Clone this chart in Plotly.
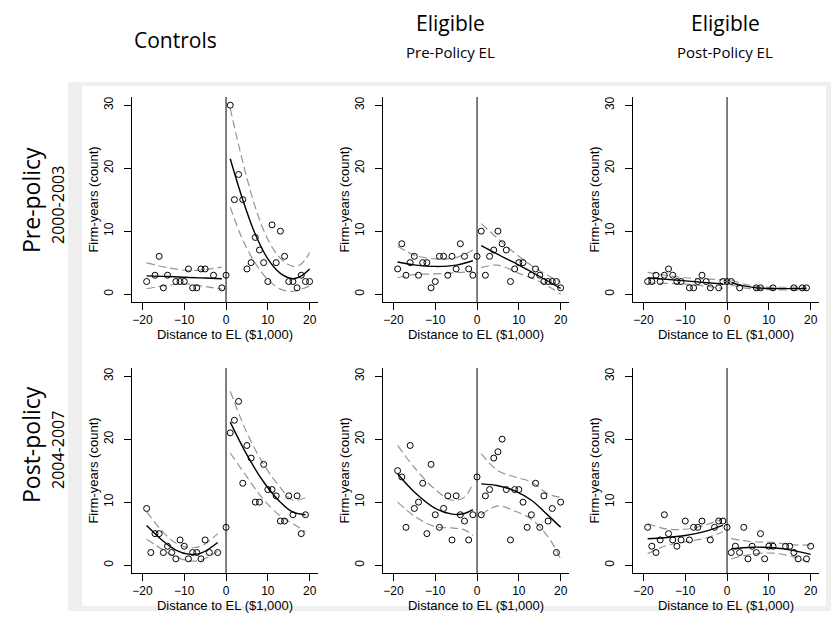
import plotly.graph_objects as go

W, H = 831, 633

# ---------------- data ----------------
# Panel A: Controls, pre-policy (2000-2003)
ctrl_pre_x = [-19, -17, -16, -15, -14, -12, -11, -10, -9, -8, -7, -6, -5, -3, -1, 0,
              1, 2, 3, 4, 5, 6, 7, 8, 9, 10, 11, 12, 13, 14, 15, 16, 17, 18, 19, 20]
ctrl_pre_y = [2, 3, 6, 1, 3, 2, 2, 2, 4, 1, 1, 4, 4, 3, 1, 3,
              30, 15, 19, 15, 4, 5, 9, 7, 5, 2, 11, 5, 10, 6, 2, 2, 1, 3, 2, 2]
ctrl_pre_fitL_x = [-19, -14, -9, -5, -1]
ctrl_pre_fitL = [2.9, 2.8, 2.65, 2.55, 2.45]
ctrl_pre_hiL = [4.95, 4.2, 3.75, 3.9, 4.3]
ctrl_pre_loL = [0.85, 1.4, 1.6, 1.2, 0.8]
ctrl_pre_fitR_x = [1, 4, 7, 10, 13, 16, 18, 20]
ctrl_pre_fitR = [21.5, 15.0, 9.5, 5.6, 3.3, 2.45, 2.9, 4.0]
ctrl_pre_hiR = [29.5, 21.0, 13.8, 8.7, 5.7, 4.4, 4.8, 6.6]
ctrl_pre_loR = [13.8, 8.6, 4.9, 2.3, 0.8, 0.45, 0.8, 1.3]

# Panel B: Eligible (pre-policy EL), pre-policy
eprel_pre_x = [-19, -18, -17, -16, -15, -14, -13, -12, -11, -10, -9, -8, -7, -6, -5, -4, -3, -2, -1, 0,
               1, 2, 3, 4, 5, 6, 7, 8, 9, 10, 11, 13, 14, 15, 16, 17, 18, 19, 20]
eprel_pre_y = [4, 8, 3, 5, 6, 3, 5, 5, 1, 2, 6, 6, 3, 6, 4, 8, 6, 4, 3, 6,
               10, 3, 6, 7, 10, 8, 7, 2, 4, 5, 5, 3, 4, 3, 2, 2, 2, 2, 1]
eprel_pre_fitL_x = [-19, -15, -10, -5, -1]
eprel_pre_fitL = [5.1, 4.65, 4.4, 4.6, 5.3]
eprel_pre_hiL = [7.6, 6.2, 5.6, 5.8, 7.0]
eprel_pre_loL = [2.6, 3.1, 3.2, 3.4, 3.6]
eprel_pre_fitR_x = [1, 5, 10, 15, 20]
eprel_pre_fitR = [7.7, 6.3, 4.6, 2.8, 0.9]
eprel_pre_hiR = [11.2, 8.8, 6.0, 3.7, 1.9]
eprel_pre_loR = [4.2, 4.6, 3.3, 2.0, 0.0]

# Panel C: Eligible (post-policy EL), pre-policy
epoel_pre_x = [-19, -18, -17, -16, -15, -14, -13, -12, -11, -9, -8, -7, -6, -5, -4, -2, -1, 0,
               1, 3, 7, 8, 11, 16, 18, 19]
epoel_pre_y = [2, 2, 3, 2, 3, 4, 3, 2, 2, 1, 1, 2, 3, 2, 1, 1, 2, 2,
               2, 1, 1, 1, 1, 1, 1, 1]
epoel_pre_fitL_x = [-19, -10, -1]
epoel_pre_fitL = [2.6, 2.1, 1.6]
epoel_pre_hiL = [3.45, 2.6, 2.3]
epoel_pre_loL = [1.75, 1.6, 0.9]
epoel_pre_fitR_x = [1, 4, 7, 10, 15, 19]
epoel_pre_fitR = [1.85, 1.3, 1.0, 0.9, 0.88, 0.9]
epoel_pre_hiR = [2.25, 1.6, 1.2, 1.1, 1.1, 1.15]
epoel_pre_loR = [1.45, 1.0, 0.8, 0.7, 0.65, 0.65]

# Panel D: Controls, post-policy (2004-2007)
ctrl_post_x = [-19, -18, -17, -16, -15, -14, -13, -12, -11, -10, -9, -8, -7, -6, -5, -4, -2, 0,
               1, 2, 3, 4, 5, 6, 7, 8, 9, 10, 11, 12, 13, 14, 15, 16, 17, 18, 19]
ctrl_post_y = [9, 2, 5, 5, 2, 3, 2, 1, 4, 3, 1, 2, 2, 1, 4, 2, 2, 6,
               21, 23, 26, 13, 19, 17, 10, 10, 16, 12, 12, 11, 7, 7, 11, 8, 11, 5, 8]
ctrl_post_fitL_x = [-19, -15, -12, -9, -6, -2]
ctrl_post_fitL = [6.3, 3.8, 2.4, 1.75, 1.9, 3.6]
ctrl_post_hiL = [8.5, 5.2, 3.5, 2.8, 3.0, 5.0]
ctrl_post_loL = [4.1, 2.4, 1.3, 0.7, 0.8, 2.2]
ctrl_post_fitR_x = [1, 5, 9, 13, 16, 19]
ctrl_post_fitR = [22.7, 17.5, 13.2, 10.0, 8.4, 8.0]
ctrl_post_hiR = [27.6, 21.0, 16.0, 12.3, 10.3, 10.7]
ctrl_post_loR = [17.8, 14.0, 10.4, 7.8, 6.6, 5.3]

# Panel E: Eligible (pre-policy EL), post-policy
eprel_post_x = [-19, -18, -17, -16, -15, -14, -13, -12, -11, -10, -9, -8, -7, -6, -5, -4, -3, -2, -1, 0,
                1, 2, 3, 4, 5, 6, 7, 8, 9, 10, 11, 12, 13, 14, 15, 16, 17, 18, 19, 20]
eprel_post_y = [15, 14, 6, 19, 9, 10, 13, 5, 16, 8, 6, 9, 11, 4, 11, 8, 7, 4, 8, 14,
                8, 11, 12, 17, 18, 20, 12, 4, 12, 12, 10, 6, 8, 13, 6, 11, 7, 9, 2, 10]
eprel_post_fitL_x = [-19, -15, -10, -6, -3, -1]
eprel_post_fitL = [14.5, 11.6, 9.0, 8.1, 8.2, 8.8]
eprel_post_hiL = [19.0, 15.5, 12.0, 10.3, 10.8, 13.0]
eprel_post_loL = [10.0, 7.8, 6.1, 5.9, 5.6, 4.7]
eprel_post_fitR_x = [1, 5, 9, 13, 17, 20]
eprel_post_fitR = [12.9, 12.6, 11.8, 10.3, 7.9, 6.0]
eprel_post_hiR = [17.7, 15.0, 14.0, 13.2, 11.3, 10.8]
eprel_post_loR = [8.0, 9.4, 8.6, 7.3, 4.5, 1.0]

# Panel F: Eligible (post-policy EL), post-policy
epoel_post_x = [-19, -18, -17, -16, -15, -14, -13, -12, -11, -10, -9, -8, -7, -6, -4, -3, -2, -1, 0,
                1, 2, 3, 4, 5, 6, 7, 8, 9, 10, 11, 14, 15, 16, 17, 19, 20]
epoel_post_y = [6, 3, 2, 4, 8, 5, 4, 3, 4, 7, 4, 6, 6, 7, 4, 6, 7, 7, 6,
                2, 3, 2, 6, 1, 3, 2, 5, 1, 3, 3, 3, 3, 2, 1, 1, 3]
epoel_post_fitL_x = [-19, -15, -10, -5, -1]
epoel_post_fitL = [4.2, 4.35, 4.7, 5.4, 6.3]
epoel_post_hiL = [6.6, 5.8, 5.7, 6.4, 7.4]
epoel_post_loL = [1.8, 3.0, 3.7, 4.3, 5.3]
epoel_post_fitR_x = [1, 6, 11, 16, 20]
epoel_post_fitR = [2.6, 2.85, 2.75, 2.3, 1.7]
epoel_post_hiR = [4.2, 3.7, 3.6, 3.2, 3.2]
epoel_post_loR = [1.0, 1.75, 1.9, 1.3, 0.3]

x_ticks = [-20, -10, 0, 10, 20]
y_ticks = [0, 10, 20, 30]
x_title = "Distance to EL ($1,000)"
y_title = "Firm-years (count)"
col_titles = ["Controls", "Eligible", "Eligible"]
col_subtitles = ["", "Pre-Policy EL", "Post-Policy EL"]
row_titles = ["Pre-policy", "Post-policy"]
row_subtitles = ["2000-2003", "2004-2007"]

panels = [
    (ctrl_pre_x, ctrl_pre_y, ctrl_pre_fitL_x, ctrl_pre_fitL, ctrl_pre_hiL, ctrl_pre_loL,
     ctrl_pre_fitR_x, ctrl_pre_fitR, ctrl_pre_hiR, ctrl_pre_loR),
    (eprel_pre_x, eprel_pre_y, eprel_pre_fitL_x, eprel_pre_fitL, eprel_pre_hiL, eprel_pre_loL,
     eprel_pre_fitR_x, eprel_pre_fitR, eprel_pre_hiR, eprel_pre_loR),
    (epoel_pre_x, epoel_pre_y, epoel_pre_fitL_x, epoel_pre_fitL, epoel_pre_hiL, epoel_pre_loL,
     epoel_pre_fitR_x, epoel_pre_fitR, epoel_pre_hiR, epoel_pre_loR),
    (ctrl_post_x, ctrl_post_y, ctrl_post_fitL_x, ctrl_post_fitL, ctrl_post_hiL, ctrl_post_loL,
     ctrl_post_fitR_x, ctrl_post_fitR, ctrl_post_hiR, ctrl_post_loR),
    (eprel_post_x, eprel_post_y, eprel_post_fitL_x, eprel_post_fitL, eprel_post_hiL, eprel_post_loL,
     eprel_post_fitR_x, eprel_post_fitR, eprel_post_hiR, eprel_post_loR),
    (epoel_post_x, epoel_post_y, epoel_post_fitL_x, epoel_post_fitL, epoel_post_hiL, epoel_post_loL,
     epoel_post_fitR_x, epoel_post_fitR, epoel_post_hiR, epoel_post_loR),
]

# ---------------- layout geometry (pixels) ----------------
col_px = [(132, 318), (383, 569), (633, 819)]
row_px = [(97, 302), (368, 573)]
X_RANGE = [-22.5, 22.0]
Y_RANGE = [-1.25, 31.3]

def px(x):
    return x / W

def py(y):
    return 1 - y / H

fig = go.Figure()
layout = dict(
    width=W, height=H, margin=dict(l=0, r=0, t=0, b=0),
    paper_bgcolor="white", plot_bgcolor="rgba(0,0,0,0)",
    showlegend=False, font=dict(family="Liberation Sans, Arial", color="black"),
)

TICKFONT = dict(family="Liberation Sans, Arial", size=12, color="black")
TITLEFONT = dict(family="Liberation Sans, Arial", size=13, color="black")
FIT = dict(color="black", width=1.4, shape="spline")
CI = dict(color="#959595", width=1.2, dash="8px,4px", shape="spline")

shapes = [
    dict(type="rect", xref="paper", yref="paper", x0=px(68), x1=px(831), y0=py(611), y1=py(82),
         fillcolor="#efefef", line=dict(width=0), layer="below"),
    dict(type="rect", xref="paper", yref="paper", x0=px(82), x1=px(826), y0=py(606), y1=py(86),
         fillcolor="white", line=dict(width=0), layer="below"),
]

for i, p in enumerate(panels):
    (sx, sy, lx, lf, lh, ll, rx, rf, rh, rl) = p
    r, c = divmod(i, 3)
    n = i + 1
    xa = "x" if n == 1 else f"x{n}"
    ya = "y" if n == 1 else f"y{n}"
    xk = "xaxis" if n == 1 else f"xaxis{n}"
    yk = "yaxis" if n == 1 else f"yaxis{n}"
    x0, x1 = col_px[c]
    y0, y1 = row_px[r]
    layout[xk] = dict(
        domain=[px(x0), px(x1)], range=X_RANGE, anchor=ya,
        showline=True, linecolor="black", linewidth=1, mirror=False,
        ticks="outside", ticklen=7, tickwidth=1, tickcolor="black",
        tickvals=x_ticks, tickfont=TICKFONT, showgrid=False, zeroline=False,
        title=dict(text=x_title, font=TITLEFONT, standoff=2),
    )
    layout[yk] = dict(
        domain=[py(y1), py(y0)], range=Y_RANGE, anchor=xa,
        showline=True, linecolor="black", linewidth=1, mirror=False,
        ticks="outside", ticklen=7, tickwidth=1, tickcolor="black",
        tickvals=y_ticks, tickfont=TICKFONT, tickangle=-90, ticklabelstandoff=6,
        showgrid=False, zeroline=False,
        title=dict(text=y_title, font=TITLEFONT, standoff=0),
    )
    # vertical line at the threshold
    shapes.append(dict(type="line", xref=xa, yref=f"{ya} domain", x0=0, x1=0, y0=0, y1=1,
                       line=dict(color="black", width=1)))
    for fx, ff, fh, fl in ((lx, lf, lh, ll), (rx, rf, rh, rl)):
        fig.add_trace(go.Scatter(x=fx, y=fh, mode="lines", line=CI, xaxis=xa, yaxis=ya,
                                 hoverinfo="skip"))
        fig.add_trace(go.Scatter(x=fx, y=fl, mode="lines", line=CI, xaxis=xa, yaxis=ya,
                                 hoverinfo="skip"))
        fig.add_trace(go.Scatter(x=fx, y=ff, mode="lines", line=FIT, xaxis=xa, yaxis=ya))
    fig.add_trace(go.Scatter(x=sx, y=sy, mode="markers", xaxis=xa, yaxis=ya,
                             marker=dict(symbol="circle-open", size=6, color="black",
                                         line=dict(width=1, color="black"))))

annotations = []
HEAD = "Open Sans"
col_centers = [175, 450, 725]
for j in range(3):
    if col_subtitles[j]:
        annotations.append(dict(text=col_titles[j], x=px(col_centers[j]), y=py(23), xref="paper",
                                yref="paper", showarrow=False, font=dict(family=HEAD, size=21),
                                xanchor="center", yanchor="middle"))
        annotations.append(dict(text=col_subtitles[j], x=px(col_centers[j]), y=py(52), xref="paper",
                                yref="paper", showarrow=False, font=dict(family=HEAD, size=15),
                                xanchor="center", yanchor="middle"))
    else:
        annotations.append(dict(text=col_titles[j], x=px(col_centers[j]), y=py(40), xref="paper",
                                yref="paper", showarrow=False, font=dict(family=HEAD, size=21),
                                xanchor="center", yanchor="middle"))
row_centers = [200, 445]
for k in range(2):
    annotations.append(dict(text=row_titles[k], x=px(31), y=py(row_centers[k]), xref="paper",
                            yref="paper", showarrow=False, textangle=-90,
                            font=dict(family=HEAD, size=23), xanchor="center", yanchor="middle"))
    annotations.append(dict(text=row_subtitles[k], x=px(58), y=py(row_centers[k] + 5), xref="paper",
                            yref="paper", showarrow=False, textangle=-90,
                            font=dict(family=HEAD, size=16), xanchor="center", yanchor="middle"))

layout["shapes"] = shapes
layout["annotations"] = annotations
fig.update_layout(**layout)
fig.write_html("out.html", config={"displayModeBar": False},
               post_script="document.body.style.margin='0';document.body.style.padding='0';")
